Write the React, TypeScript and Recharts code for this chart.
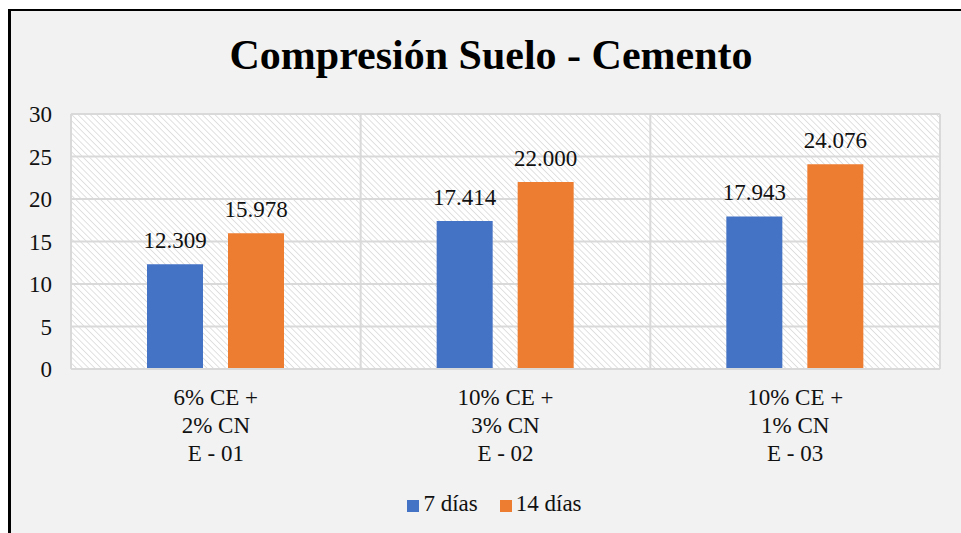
import { BarChart, Bar, XAxis, YAxis, CartesianGrid, Legend, LabelList } from 'recharts'

const categories = ['6% CE +\n2% CN\nE - 01', '10% CE +\n3% CN\nE - 02', '10% CE +\n1% CN\nE - 03']
const dias7 = [12.309, 17.414, 17.943]
const dias14 = [15.978, 22.0, 24.076]
const yTicks = [0, 5, 10, 15, 20, 25, 30]

const data = categories.map((c, i) => ({ name: c, '7 días': dias7[i], '14 días': dias14[i] }))

const FONT = "'Liberation Serif', 'Times New Roman', serif"
const FS = 23

function CatTick({ x, y, payload }: any) {
  const lines = String(payload.value).split('\n')
  return (
    <text x={x} y={y} textAnchor="middle" fontFamily={FONT} fontSize={FS} fill="#111">
      {lines.map((l, i) => (
        <tspan key={i} x={x} dy={i === 0 ? 36 : 28}>{l}</tspan>
      ))}
    </text>
  )
}

export default function App() {
  return (
    <div style={{ position: 'absolute', left: 0, top: 0, width: 961, height: 533, background: '#fff', overflow: 'hidden', fontFamily: FONT }}>
      <div style={{ position: 'absolute', left: 8, top: 9, width: 970, height: 540, borderLeft: '3px solid #000', borderTop: '2px solid #000', background: '#f2f2f2' }} />
      <div style={{ position: 'absolute', left: 9, width: 964, top: 31, textAlign: 'center', fontFamily: FONT, fontWeight: 'bold', fontSize: 42, color: '#000' }}>
        Compresión Suelo - Cemento
      </div>
      <div style={{ position: 'absolute', left: 0, top: 0 }}>
        <BarChart width={961} height={533} data={data} margin={{ top: 114, right: 21, left: 31, bottom: 16 }} barGap={25} barSize={56}>
          <defs>
            <pattern id="hatch" width="4.4" height="4.4" patternUnits="userSpaceOnUse" patternTransform="rotate(-45)">
              <rect width="4.4" height="4.4" fill="#ffffff" />
              <line x1="0" y1="0" x2="0" y2="4.4" stroke="#dadada" strokeWidth="1.6" />
            </pattern>
          </defs>
          <CartesianGrid
            fill="url(#hatch)"
            stroke="#d9d9d9"
            strokeWidth={2}
            verticalCoordinatesGenerator={({ offset }: any) =>
              categories.map((_, i) => offset.left + (i * offset.width) / categories.length).concat(offset.left + offset.width)
            }
          />
          <XAxis dataKey="name" tick={<CatTick />} tickLine={false} tickSize={0} tickMargin={0} height={122} axisLine={{ stroke: '#d9d9d9', strokeWidth: 2 }} interval={0} />
          <YAxis domain={[0, 30]} ticks={yTicks} width={40} axisLine={false} tickLine={false} tickSize={0} tickMargin={19}
            tick={{ fontFamily: FONT, fontSize: FS, fill: '#111' }} />
          <Legend verticalAlign="bottom" align="center" iconType="square" iconSize={12}
            itemSorter={(item: any) => (item.dataKey === '7 días' ? 0 : 1)}
            wrapperStyle={{ fontFamily: FONT, fontSize: FS, left: 51 }}
            formatter={(v: string) => <span style={{ color: '#111', fontFamily: FONT, fontSize: FS, marginRight: 12 }}>{v}</span>} />
          <Bar dataKey="7 días" fill="#4472c4" isAnimationActive={false}>
            <LabelList dataKey="7 días" position="top" offset={16} formatter={(v: any) => Number(v).toFixed(3)}
              fontFamily={FONT} fontSize={FS} fill="#111" />
          </Bar>
          <Bar dataKey="14 días" fill="#ed7d31" isAnimationActive={false}>
            <LabelList dataKey="14 días" position="top" offset={16} formatter={(v: any) => Number(v).toFixed(3)}
              fontFamily={FONT} fontSize={FS} fill="#111" />
          </Bar>
        </BarChart>
      </div>
    </div>
  )
}
